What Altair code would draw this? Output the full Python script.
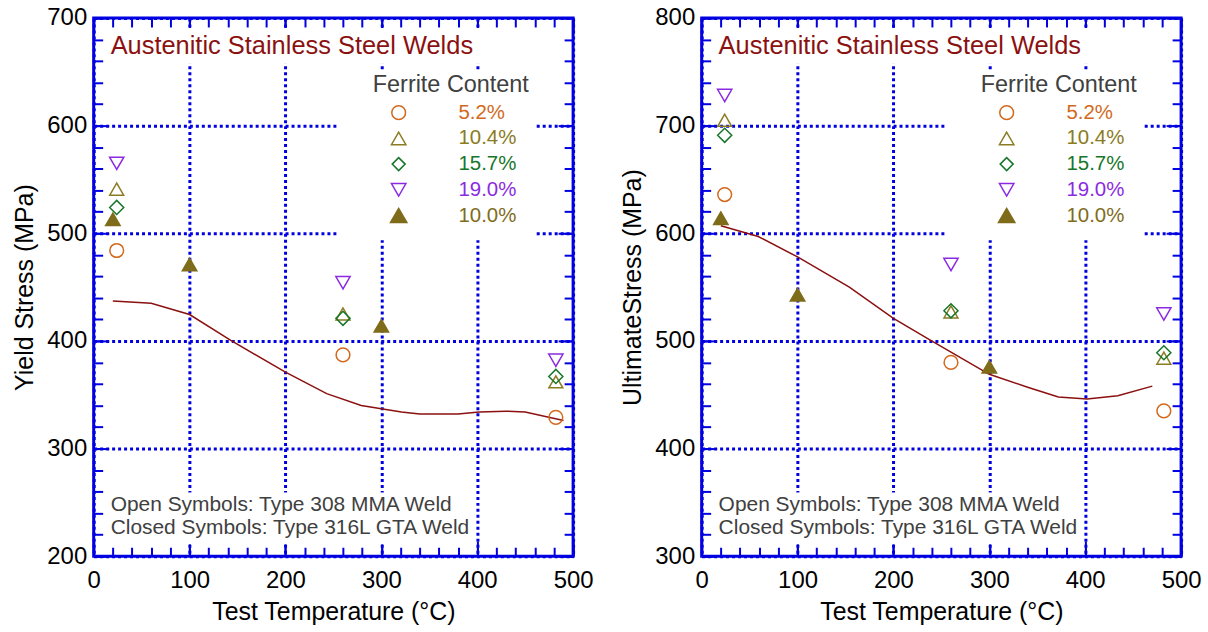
import altair as alt
import pandas as pd

FONT = "Liberation Sans"
BLUE = "#0000E0"

series = ["5.2%", "10.4%", "15.7%", "19.0%", "10.0%"]
colors = ["#D2691E", "#8B7B22", "#17762A", "#8A2BE2", "#7F6C1A"]
shapes = ["circle", "triangle-up", "diamond", "triangle-down", "triangle-up"]
fills = ["transparent", "transparent", "transparent", "transparent", "#7F6C1A"]
sizes = [190, 210, 170, 210, 270]

temp_open = [24, 260, 482]
temp_closed = [20, 100, 300]

# Yield stress (MPa)
yield_vals = {
    "5.2%": [484, 387, 329],
    "10.4%": [541, 425, 362],
    "15.7%": [524, 421, 367],
    "19.0%": [565, 454, 382],
    "10.0%": [513, 471, 414],
}
yield_line_t = [20, 60, 100, 143, 200, 243, 279, 321, 340, 380, 402, 430, 450, 490]
yield_line_v = [437, 435, 424.5, 400.5, 371, 351, 340, 334, 332, 332, 334, 334.7, 334, 326]

# Ultimate stress (MPa)
ult_vals = {
    "5.2%": [636, 480, 435],
    "10.4%": [705, 527, 484],
    "15.7%": [691, 528, 489],
    "19.0%": [728, 571, 525],
    "10.0%": [614, 543, 476],
}
ult_line_t = [20, 59, 100, 154, 200, 238, 300, 340, 372, 402, 434, 470]
ult_line_v = [607, 597, 578, 550, 521, 501, 469, 457, 448, 446, 449, 458]

title_text = "Austenitic Stainless Steel Welds"
legend_title = "Ferrite Content"
note1 = "Open Symbols: Type 308 MMA Weld"
note2 = "Closed Symbols: Type 316L GTA Weld"
x_title = "Test Temperature (°C)"

W, H = 481, 540
one = pd.DataFrame({"a": [0]})


def pts_df(vals):
    rows = []
    for s in series:
        ts = temp_closed if s == "10.0%" else temp_open
        for t, v in zip(ts, vals[s]):
            rows.append({"T": t, "v": v, "series": s})
    return pd.DataFrame(rows)


def txt(s, x, y, size, color):
    return alt.Chart(one).mark_text(
        text=s, align="left", baseline="middle", font=FONT, fontSize=size, color=color
    ).encode(x=alt.value(x), y=alt.value(y))


def box(x1, x2, y1, y2):
    return alt.Chart(one).mark_rect(color="white").encode(
        x=alt.value(x1), x2=alt.value(x2), y=alt.value(y1), y2=alt.value(y2)
    )


def panel(vals, lt, lv, ylo, yhi, ytitle):
    xs = alt.Scale(domain=[0, 500], nice=False, zero=False)
    ys = alt.Scale(domain=[ylo, yhi], nice=False, zero=False)
    minor_x = list(range(0, 501, 20))
    minor_y = list(range(ylo, yhi + 1, 20))
    major_x = list(range(0, 501, 100))
    major_y = list(range(ylo, yhi + 1, 100))
    gridop = {"condition": {"test": "datum.value % 100 === 0", "value": 1}, "value": 0}
    common = dict(domain=False, tickColor=BLUE, tickWidth=2)

    ax_bottom = alt.Axis(orient="bottom", values=minor_x, offset=-9, tickSize=9,
                         labelExpr="datum.value % 100 === 0 ? datum.label : ''",
                         labelFont=FONT, labelFontSize=24, labelColor="black",
                         labelPadding=12, labelFlush=False, labelOverlap=False,
                         title=x_title, titleFont=FONT, titleFontSize=25,
                         titleFontWeight="normal", titleColor="black", titlePadding=8,
                         grid=True, gridColor=BLUE, gridDash=[3, 3], gridWidth=3,
                         gridOpacity=gridop, **common)
    ax_left = alt.Axis(orient="left", values=minor_y, offset=-9, tickSize=9,
                       labelExpr="datum.value % 100 === 0 ? datum.label : ''",
                       labelFont=FONT, labelFontSize=24, labelColor="black",
                       labelPadding=7, labelFlush=False, labelOverlap=False,
                       title=ytitle, titleFont=FONT, titleFontSize=25,
                       titleFontWeight="normal", titleColor="black", titlePadding=9,
                       grid=True, gridColor=BLUE, gridDash=[3, 3], gridWidth=3,
                       gridOpacity=gridop, **common)

    def tick_axis(orient, values, size):
        return alt.Axis(orient=orient, values=values, offset=-size, tickSize=size,
                        labels=False, grid=False, title=None, **common)

    line_df = pd.DataFrame({"T": lt, "v": lv})
    pdf = pts_df(vals)

    boxes = box(12, 468, 10, 46) + box(245, 443, 53, 223) + box(12, 378, 476, 528)

    line = alt.Chart(line_df).mark_line(color="#8B1010", strokeWidth=1.5).encode(
        x=alt.X("T:Q", scale=xs, axis=ax_bottom),
        y=alt.Y("v:Q", scale=ys, axis=ax_left),
    )
    points = alt.Chart(pdf).mark_point(filled=True, opacity=1, strokeWidth=1.5).encode(
        x=alt.X("T:Q", scale=xs, axis=tick_axis("top", minor_x, 9)),
        y=alt.Y("v:Q", scale=ys, axis=tick_axis("right", minor_y, 9)),
        shape=alt.Shape("series:N", scale=alt.Scale(domain=series, range=shapes), legend=None),
        stroke=alt.Stroke("series:N", scale=alt.Scale(domain=series, range=colors), legend=None),
        fill=alt.Fill("series:N", scale=alt.Scale(domain=series, range=fills), legend=None),
        size=alt.Size("series:N", scale=alt.Scale(domain=series, range=sizes), legend=None),
    )
    maj1 = alt.Chart(line_df).mark_line(opacity=0).encode(
        x=alt.X("T:Q", scale=xs, axis=tick_axis("bottom", major_x, 15)),
        y=alt.Y("v:Q", scale=ys, axis=tick_axis("left", major_y, 15)),
    )
    maj2 = alt.Chart(line_df).mark_line(opacity=0).encode(
        x=alt.X("T:Q", scale=xs, axis=tick_axis("top", major_x, 15)),
        y=alt.Y("v:Q", scale=ys, axis=tick_axis("right", major_y, 15)),
    )

    texts = txt(title_text, 17, 28, 25.5, "#8B1111") + txt(legend_title, 280, 67, 23.5, "#404040")
    texts = texts + txt(note1, 17, 489, 21, "#404040") + txt(note2, 17, 512, 21, "#404040")
    for i, s in enumerate(series):
        yy = 95 + 25.8 * i
        sym = alt.Chart(one).mark_point(
            shape=shapes[i], size=sizes[i], filled=True, opacity=1, strokeWidth=1.5,
            stroke=colors[i], fill=fills[i]
        ).encode(x=alt.value(306), y=alt.value(yy))
        texts = texts + sym + txt(s, 366, yy, 20.5, colors[i])

    return alt.layer(line, points, maj1, maj2, boxes, texts).resolve_axis(
        x="independent", y="independent"
    ).properties(width=W, height=H)


left = panel(yield_vals, yield_line_t, yield_line_v, 200, 700, "Yield Stress (MPa)")
right = panel(ult_vals, ult_line_t, ult_line_v, 300, 800, "UltimateStress (MPa)")

chart = alt.hconcat(left, right, spacing=24).configure_view(
    stroke=BLUE, strokeWidth=3
).properties(padding={"left": 11, "top": 3, "right": 5, "bottom": 5}, background="white")

chart.save("out.html", embed_options={"renderer": "svg", "actions": False})
